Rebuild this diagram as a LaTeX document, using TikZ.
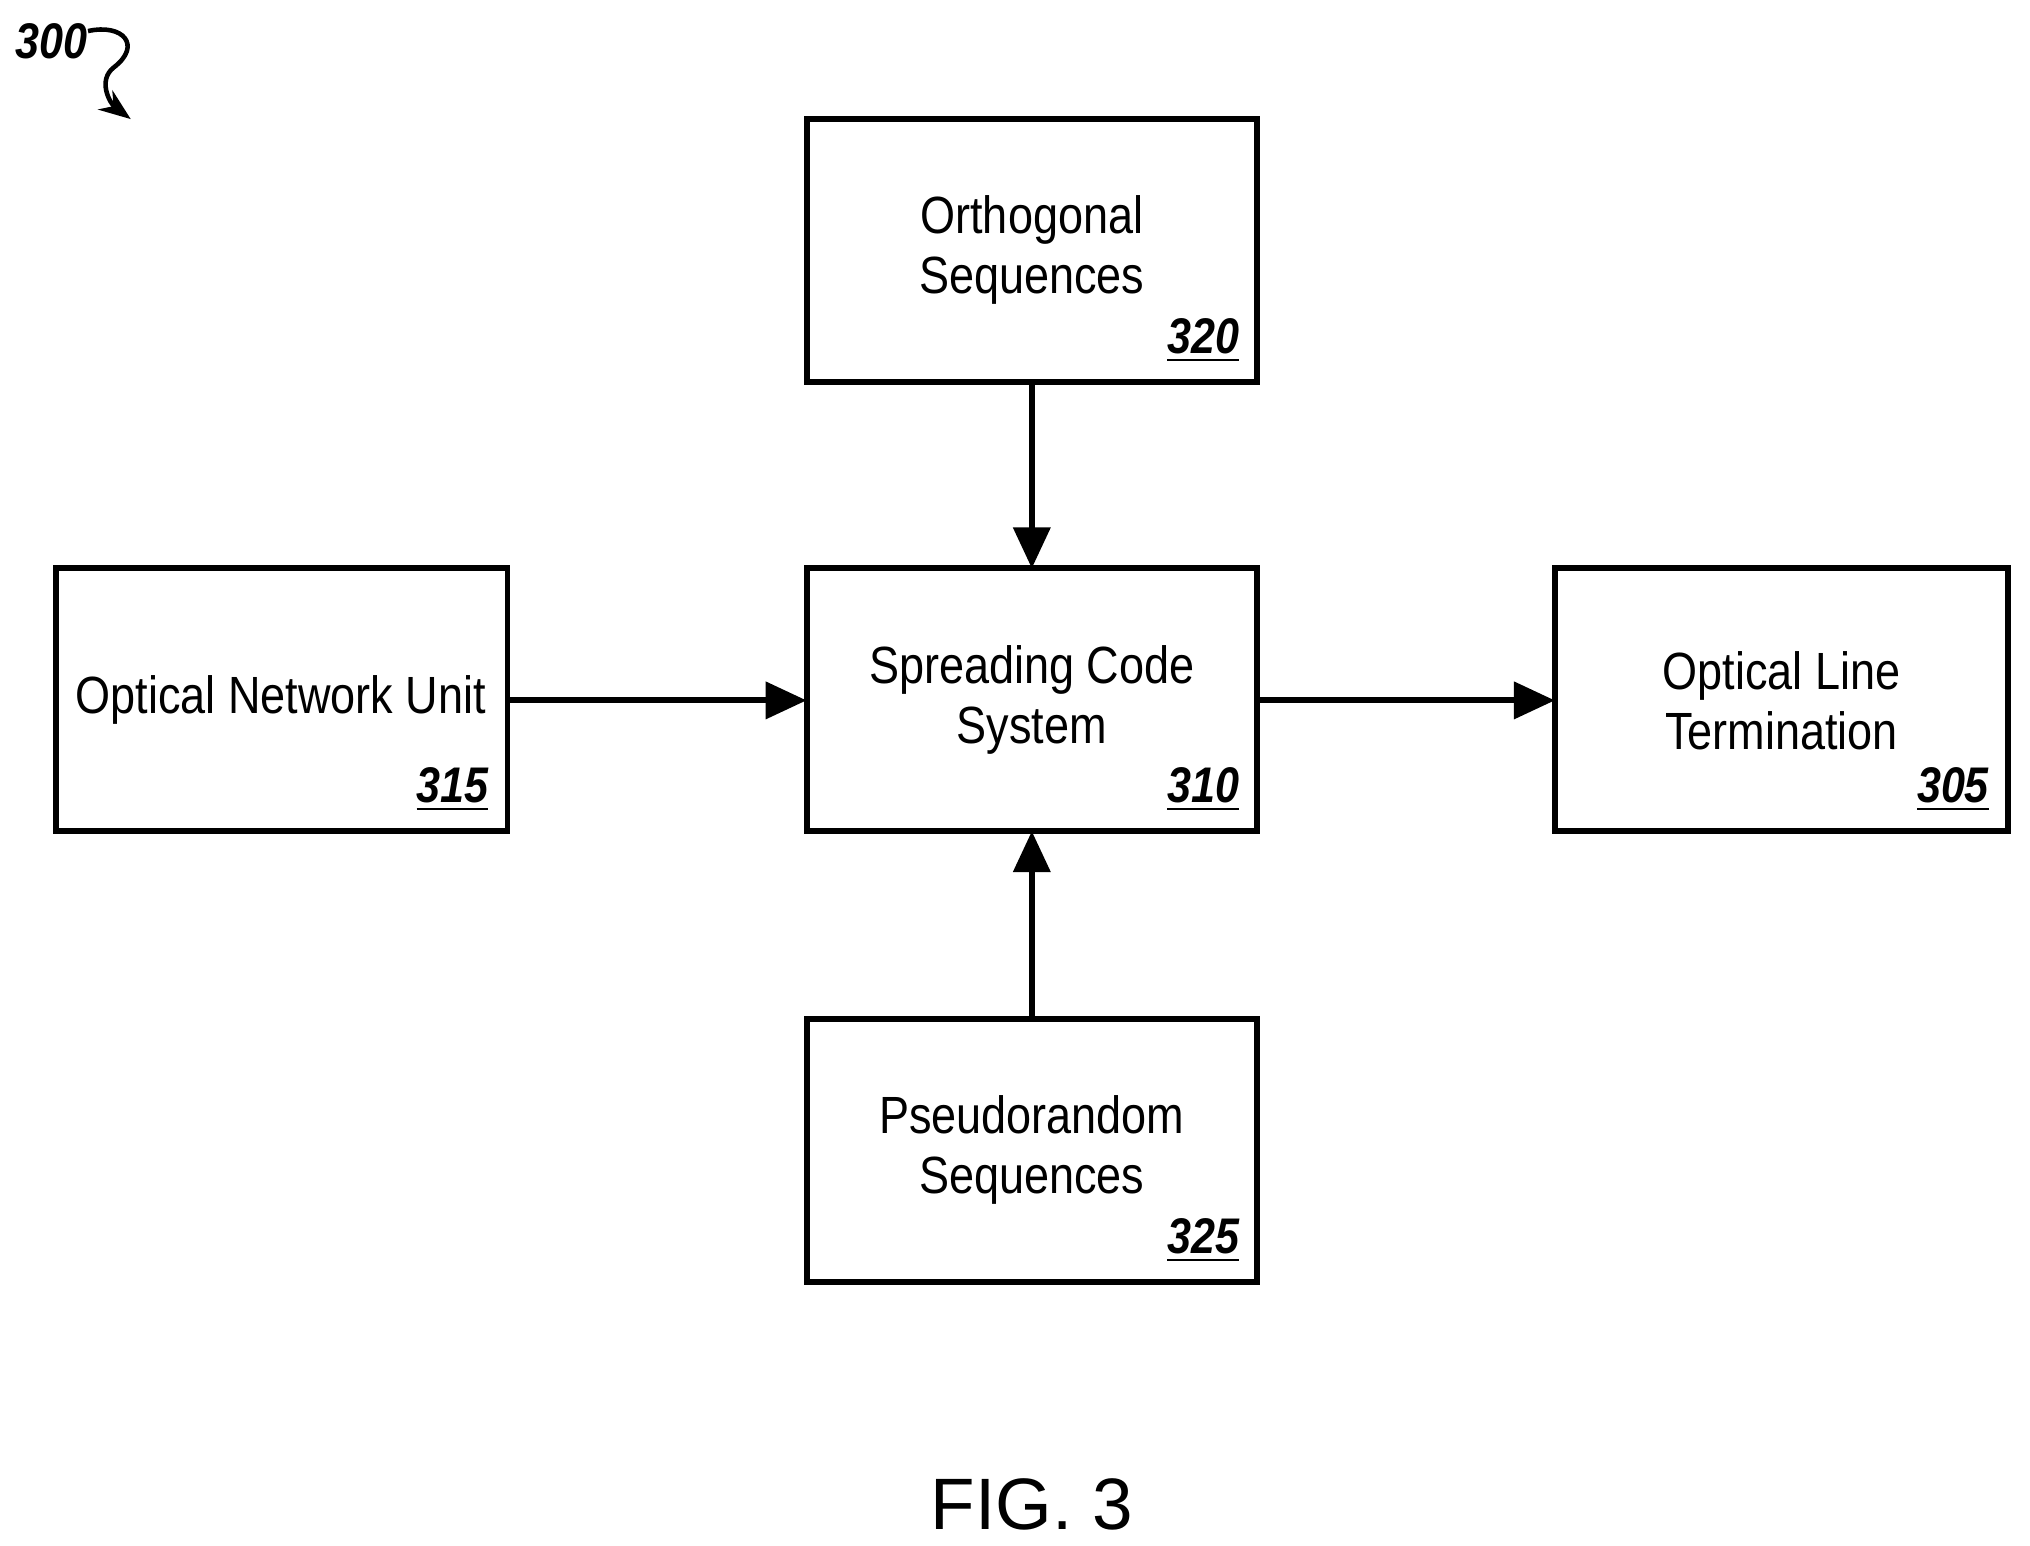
\documentclass[tikz,border=0pt]{standalone}
\usepackage{fontspec}
\setmainfont{Liberation Sans}[FakeStretch=0.86]
\newfontfamily\figfont{Liberation Sans}
\usetikzlibrary{arrows.meta}
\begin{document}
\begin{tikzpicture}[x=0.01cm,y=-0.01cm,
  box/.style={draw,line width=1.3pt,minimum width=348\pgflinewidth,inner sep=0pt},
  txt/.style={align=center,font=\fontsize{11.5}{13.2}\selectfont},
  num/.style={anchor=south east,font=\fontsize{11}{13}\selectfont\bfseries\itshape,inner sep=0pt},
  arr/.style={line width=1.3pt,-{Triangle[length=9pt,width=8pt]}}]
\useasboundingbox (0,0) rectangle (1568,1194);
\draw[line width=1.3pt] (623,92) rectangle (971,295) coordinate (b320);
\node[box,draw=none] (n320) at (797,193.5) {};
\draw[line width=1.3pt] (43,439) rectangle (392,642);
\draw[line width=1.3pt] (623,439) rectangle (971,642);
\draw[line width=1.3pt] (1201,439) rectangle (1551,642);
\draw[line width=1.3pt] (623,787) rectangle (971,990);
\node[txt] (t320) at (797,193) {Orthogonal\\Sequences};
\node[txt] (t315) at (217,541) {Optical Network Unit};
\node[txt] (t310) at (797,541) {Spreading Code\\System};
\node[txt] (t305) at (1376,541) {Optical Line\\Termination};
\node[txt] (t325) at (797,888) {Pseudorandom\\Sequences};
\node[num] (k320) at (958,281) {\underline{320}};
\node[num] (k315) at (378,628) {\underline{315}};
\node[num] (k310) at (958,628) {\underline{310}};
\node[num] (k305) at (1537,628) {\underline{305}};
\node[num] (k325) at (958,976) {\underline{325}};
\coordinate (a320) at (797,295); \coordinate (c310t) at (797,439);
\coordinate (a315) at (392,541); \coordinate (c310l) at (623,541);
\coordinate (c310r) at (971,541); \coordinate (a305) at (1201,541);
\coordinate (a325) at (797,787); \coordinate (c310b) at (797,642);
\draw[arr] (a320) -- (c310t);
\draw[arr] (a315) -- (c310l);
\draw[arr] (c310r) -- (a305);
\draw[arr] (a325) -- (c310b);
\node[num,anchor=center] (k300) at (40,32) {300};
\coordinate (s0) at (68,24); \coordinate (s1) at (101,92);
\draw[line width=1pt,-{Stealth[length=7pt]}] (s0) .. controls (95,18) and (110,35) .. (88,52) .. controls (75,62) and (85,80) .. (s1);
\node[font=\figfont\fontsize{16}{18}\selectfont] (fig) at (797,1162) {FIG. 3};
\end{tikzpicture}
\end{document}
